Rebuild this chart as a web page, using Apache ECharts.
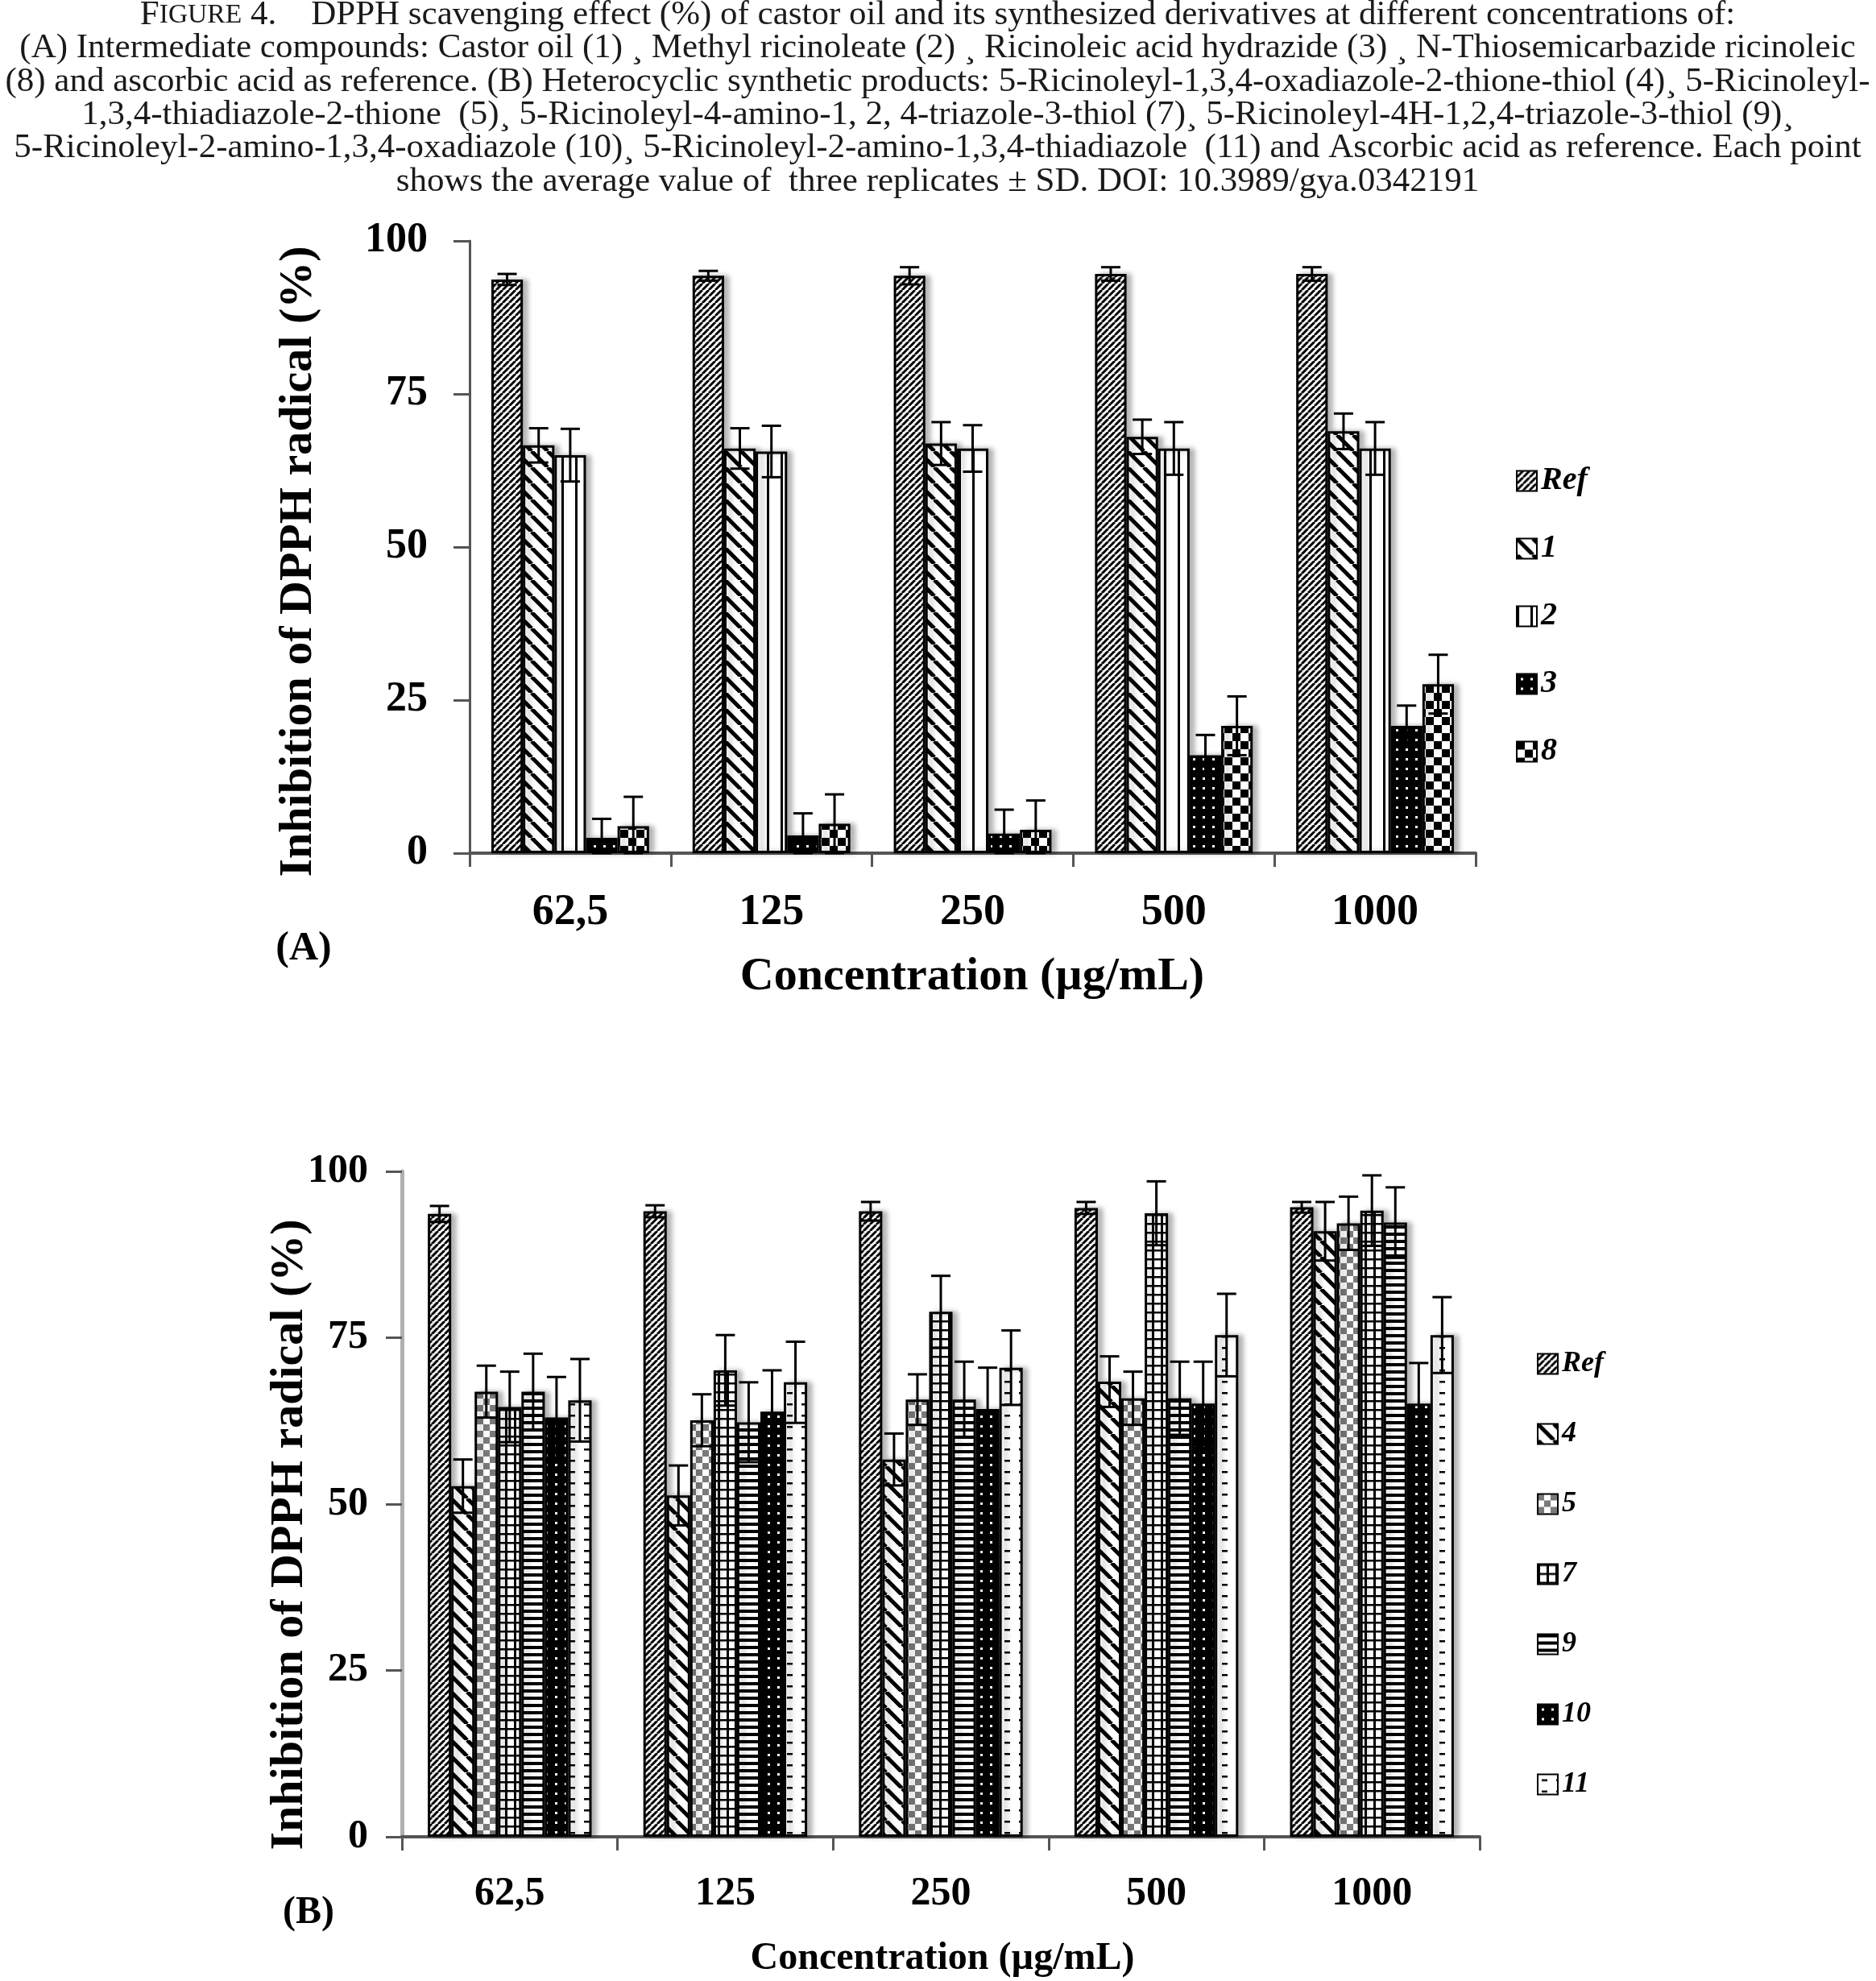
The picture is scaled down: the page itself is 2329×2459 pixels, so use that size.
<!DOCTYPE html>
<html>
<head>
<meta charset="utf-8">
<title>DPPH scavenging effect</title>
<script src="https://cdn.jsdelivr.net/npm/echarts@6.0.0/dist/echarts.min.js"></script>
<style>
  html, body { margin: 0; padding: 0; background: #fff; }
  #chart { width: 2329px; height: 2459px; }
</style>
</head>
<body>
<div id="chart"></div>
<script>
// concentrations (µg/mL)
const concentrations = ['62,5', '125', '250', '500', '1000'];
const yTicks = [0, 25, 50, 75, 100];

// panel A: intermediate compounds, mean inhibition (%) and SD
const refA = [93.7, 94.3, 94.3, 94.6, 94.6];
const refA_sd = [0.9, 0.8, 1.4, 1.1, 1.1];
const comp1 = [66.6, 66.1, 66.9, 68.0, 68.9];
const comp1_sd = [2.8, 3.3, 3.5, 2.8, 2.9];
const comp2 = [65.0, 65.6, 66.1, 66.1, 66.1];
const comp2_sd = [4.3, 4.2, 3.8, 4.3, 4.3];
const comp3 = [2.5, 2.9, 3.2, 16.0, 20.8];
const comp3_sd = [3.1, 3.6, 3.9, 3.3, 3.3];
const comp8 = [4.4, 4.8, 3.8, 20.8, 27.6];
const comp8_sd = [4.8, 4.8, 4.8, 4.8, 4.8];

// panel B: heterocyclic products
const refB = [93.6, 94.0, 94.0, 94.5, 94.6];
const refB_sd = [1.2, 0.9, 1.4, 0.9, 0.8];
const comp4 = [52.7, 51.3, 56.7, 68.4, 91.0];
const comp4_sd = [4.0, 4.5, 3.9, 3.8, 4.4];
const comp5 = [66.9, 62.6, 65.7, 65.9, 92.2];
const comp5_sd = [3.9, 3.9, 3.8, 4.0, 4.0];
const comp7 = [64.6, 70.1, 78.9, 93.7, 94.1];
const comp7_sd = [5.3, 5.3, 5.4, 4.8, 5.3];
const comp9 = [66.9, 62.3, 65.7, 65.9, 92.3];
const comp9_sd = [5.7, 6.0, 5.7, 5.5, 5.3];
const comp10 = [63.0, 63.9, 64.3, 65.1, 65.1];
const comp10_sd = [6.1, 6.2, 6.2, 6.3, 6.1];
const comp11 = [65.6, 68.3, 70.5, 75.4, 75.4];
const comp11_sd = [6.2, 6.1, 5.6, 6.2, 5.7];

const SERIF = '"Liberation Serif", "Times New Roman", serif';

// small canvas tiles used as hatch fills
function tile(w, h, draw) {
  const c = document.createElement('canvas');
  c.width = w; c.height = h;
  const g = c.getContext('2d');
  g.fillStyle = '#fff';
  g.fillRect(0, 0, w, h);
  g.fillStyle = '#000';
  g.strokeStyle = '#000';
  draw(g, w, h);
  return { image: c, repeat: 'repeat' };
}
const pat = {
  fineDiag: tile(8, 8, (g, s) => {
    g.lineWidth = 3;
    for (const k of [-s, 0, s]) { g.beginPath(); g.moveTo(k, s); g.lineTo(k + s, 0); g.stroke(); }
  }),
  wideBack: tile(20, 20, (g, s) => {
    g.lineWidth = 5;
    for (const k of [-s, 0, s]) { g.beginPath(); g.moveTo(k, 0); g.lineTo(k + s, s); g.stroke(); }
  }),
  vStripe: tile(17, 4, (g) => { g.fillRect(0, 0, 3, 4); }),
  dotBlack: tile(12, 12, (g, w, h) => {
    g.fillRect(0, 0, w, h);
    g.fillStyle = '#fff';
    g.fillRect(5, 5, 3, 3);
  }),
  checker: tile(20, 20, (g) => { g.fillRect(0, 0, 10, 10); g.fillRect(10, 10, 10, 10); }),
  grayChecker: tile(16, 16, (g) => {
    g.fillStyle = '#7a7a7a';
    g.fillRect(0, 0, 8, 8); g.fillRect(8, 8, 8, 8);
  }),
  grid: tile(11, 11, (g) => { g.fillRect(0, 0, 3, 11); g.fillRect(0, 0, 11, 2.5); }),
  hStripe: tile(4, 9, (g) => { g.fillRect(0, 0, 4, 4); }),
  dashes: tile(18, 14, (g) => { g.fillRect(5, 6, 7, 2.5); })
};

const gapA = 0.216, gapB = 0.24;

function barSeries(name, values, fill, axis, gap) {
  return {
    type: 'bar', name: name, data: values,
    xAxisIndex: axis, yAxisIndex: axis,
    barGap: '0%', barCategoryGap: (gap * 100) + '%',
    itemStyle: {
      color: fill, borderColor: '#000', borderWidth: 3,
      shadowColor: 'rgba(0,0,0,0.28)', shadowBlur: 6, shadowOffsetX: 6
    },
    emphasis: { disabled: true },
    z: 2
  };
}

function errSeries(values, sd, k, n, axis, gap) {
  return {
    type: 'custom',
    xAxisIndex: axis, yAxisIndex: axis,
    data: values.map((v, i) => [i, v, sd[i]]),
    z: 5, silent: true,
    renderItem: function (params, api) {
      const c = api.value(0), v = api.value(1), s = api.value(2);
      const band = api.size([1, 0])[0];
      const grp = band * (1 - gap);
      const bw = grp / n;
      const x = api.coord([c, v])[0] - grp / 2 + (k + 0.5) * bw;
      const yt = api.coord([c, v + s])[1];
      const yb = api.coord([c, Math.max(v - s, 0)])[1];
      const hw = 12;
      const st = { stroke: '#000', lineWidth: 3 };
      return {
        type: 'group',
        children: [
          { type: 'line', shape: { x1: x, y1: yt, x2: x, y2: yb }, style: st },
          { type: 'line', shape: { x1: x - hw, y1: yt, x2: x + hw, y2: yt }, style: st },
          { type: 'line', shape: { x1: x - hw, y1: yb, x2: x + hw, y2: yb }, style: st }
        ]
      };
    }
  };
}

const groupA = [
  ['Ref', refA, refA_sd, pat.fineDiag],
  ['1', comp1, comp1_sd, pat.wideBack],
  ['2', comp2, comp2_sd, pat.vStripe],
  ['3', comp3, comp3_sd, pat.dotBlack],
  ['8', comp8, comp8_sd, pat.checker]
];
const groupB = [
  ['RefB', refB, refB_sd, pat.fineDiag],
  ['4', comp4, comp4_sd, pat.wideBack],
  ['5', comp5, comp5_sd, pat.grayChecker],
  ['7', comp7, comp7_sd, pat.grid],
  ['9', comp9, comp9_sd, pat.hStripe],
  ['10', comp10, comp10_sd, pat.dotBlack],
  ['11', comp11, comp11_sd, pat.dashes]
];

const series = [];
groupA.forEach(d => series.push(barSeries(d[0], d[1], d[3], 0, gapA)));
groupB.forEach(d => series.push(barSeries(d[0], d[1], d[3], 1, gapB)));
groupA.forEach((d, k) => series.push(errSeries(d[1], d[2], k, groupA.length, 0, gapA)));
groupB.forEach((d, k) => series.push(errSeries(d[1], d[2], k, groupB.length, 1, gapB)));

function xAxis(idx, size, margin) {
  return {
    type: 'category', gridIndex: idx, data: concentrations,
    axisLine: { lineStyle: { color: '#555', width: 4 } },
    axisTick: { show: true, length: 17, lineStyle: { color: '#555', width: 3 } },
    axisLabel: { color: '#000', fontFamily: SERIF, fontWeight: 'bold', fontSize: size, margin: margin },
    splitLine: { show: false }
  };
}
function yAxis(idx, size, margin, lineColor, lineW) {
  return {
    type: 'value', gridIndex: idx, min: yTicks[0], max: yTicks[yTicks.length - 1], interval: 25,
    axisLine: { show: true, lineStyle: { color: lineColor, width: lineW } },
    axisTick: { show: true, length: 20, lineStyle: { color: '#555', width: 3 } },
    axisLabel: { color: '#000', fontFamily: SERIF, fontWeight: 'bold', fontSize: size, margin: margin },
    splitLine: { show: false }
  };
}

function legend(names, left, top, gap, size) {
  return {
    data: names, orient: 'vertical', left: left, top: top,
    itemWidth: 25, itemHeight: 25, itemGap: gap,
    icon: 'rect', selectedMode: false,
    formatter: n => (n === 'RefB' ? 'Ref' : n),
    itemStyle: { borderColor: '#000', borderWidth: 2, shadowBlur: 0, shadowOffsetX: 0, shadowColor: 'transparent' },
    textStyle: { fontFamily: SERIF, fontStyle: 'italic', fontWeight: 'bold', fontSize: size, color: '#000', lineHeight: 25, padding: [0, 0, 0, 0] }
  };
}

const captionLines = [
  '{b|(A) Intermediate compounds: Castor oil (1) \u00b8 Methyl ricinoleate (2) \u00b8 Ricinoleic acid hydrazide (3) \u00b8 N-Thiosemicarbazide ricinoleic}',
  '{b|(8) and ascorbic acid as reference. (B) Heterocyclic synthetic products: 5-Ricinoleyl-1,3,4-oxadiazole-2-thione-thiol (4)\u00b8 5-Ricinoleyl-}',
  '{b|1,3,4-thiadiazole-2-thione  (5)\u00b8 5-Ricinoleyl-4-amino-1, 2, 4-triazole-3-thiol (7)\u00b8 5-Ricinoleyl-4H-1,2,4-triazole-3-thiol (9)\u00b8}',
  '{b|5-Ricinoleyl-2-amino-1,3,4-oxadiazole (10)\u00b8 5-Ricinoleyl-2-amino-1,3,4-thiadiazole  (11) and Ascorbic acid as reference. Each point}',
  '{b|shows the average value of  three replicates \u00b1 SD. DOI: 10.3989/gya.0342191}'
];
const capFont = 43;
const capRich = {
  b: { fontFamily: SERIF, fontSize: capFont, fill: '#1a1a1a' },
  s: { fontFamily: SERIF, fontSize: capFont * 0.78, fill: '#1a1a1a' }
};
const graphics = [
  {
    type: 'text', x: 1164, y: 19,
    style: {
      text: '{b|F}{s|IGURE}{b| 4.    DPPH scavenging effect (%) of castor oil and its synthesized derivatives at different concentrations of:}',
      rich: capRich, align: 'center', verticalAlign: 'middle'
    }
  }
];
captionLines.forEach((t, i) => graphics.push({
  type: 'text', x: 1164, y: 60 + i * 41.4,
  style: { text: t, rich: capRich, align: 'center', verticalAlign: 'middle' }
}));
function label(text, x, y, size, rot) {
  return {
    type: 'text', x: x, y: y, rotation: rot || 0,
    style: { text: text, fill: '#000', font: 'bold ' + size + 'px ' + SERIF, align: 'center', verticalAlign: 'middle' }
  };
}
graphics.push(label('Inhibition of DPPH radical (%)', 371, 697, 58, Math.PI / 2));
graphics.push(label('Concentration (\u00b5g/mL)', 1207, 1213, 58));
graphics.push(label('(A)', 377, 1178, 50));
graphics.push(label('Inhibition of DPPH radical (%)', 360, 1905, 58, Math.PI / 2));
graphics.push(label('Concentration (\u00b5g/mL)', 1170, 2432, 48));
graphics.push(label('(B)', 383, 2375, 48));

const chart = echarts.init(document.getElementById('chart'), null, { renderer: 'canvas' });
chart.setOption({
  animation: false,
  backgroundColor: '#fff',
  grid: [
    { left: 583, right: 497, top: 299, height: 760 },
    { left: 499, right: 492, top: 1454, height: 826 }
  ],
  xAxis: [xAxis(0, 54, 47), xAxis(1, 50, 46)],
  yAxis: [yAxis(0, 52, 52, '#555', 3), yAxis(1, 50, 42, '#b0b0b0', 5)],
  legend: [
    legend(groupA.map(d => d[0]), 1877, 572, 44, 40),
    legend(groupB.map(d => d[0]), 1903, 1670, 51, 36)
  ],
  graphic: graphics,
  series: series
});
</script>
</body>
</html>
